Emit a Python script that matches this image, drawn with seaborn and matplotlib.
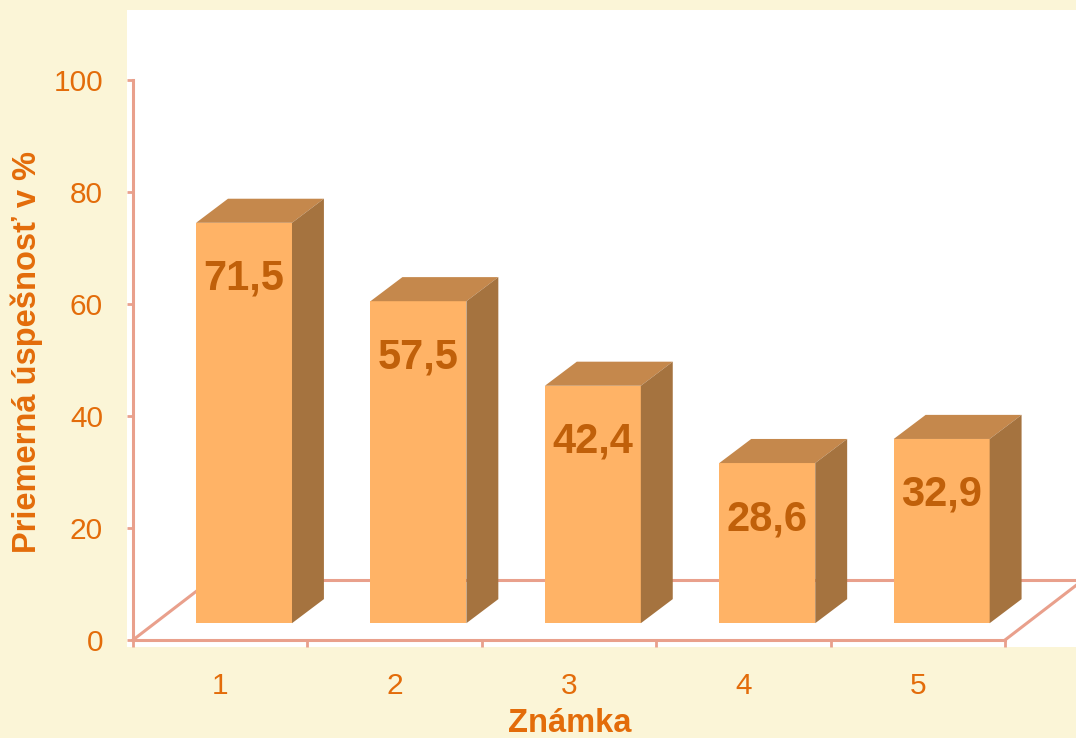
import matplotlib
matplotlib.use("Agg")
import matplotlib.pyplot as plt
from matplotlib.patches import Polygon
import seaborn as sns
import pandas as pd

# data
grades = ["1", "2", "3", "4", "5"]
success = [71.5, 57.5, 42.4, 28.6, 32.9]
value_labels = ["71,5", "57,5", "42,4", "28,6", "32,9"]
y_ticks = [0, 20, 40, 60, 80, 100]

# colours
bg = "#FBF5D7"
front_col = "#FFB366"
top_col = "#C5884C"
side_col = "#A5733F"
line_col = "#E9A08C"
text_col = "#E36C0A"
label_col = "#C0600A"

# fake 3D geometry (in data units)
floor_dx, floor_dy = 0.447, 10.7      # depth of the floor
bar_ox, bar_oy = 0.137, 3.0           # bar front face offset into the floor
bar_dx, bar_dy = 0.183, 4.3           # depth of a bar

plt.rcParams['font.family'] = ['Liberation Sans', 'DejaVu Sans']

df = pd.DataFrame({"grade": grades, "value": success})

fig = plt.figure(figsize=(10.76, 7.38), dpi=100, facecolor=bg)
ax = fig.add_axes([127 / 1076, 91 / 738, 949 / 1076, 637 / 738])
ax.set_facecolor("white")

sns.barplot(data=df, x="grade", y="value", color=front_col, width=0.55,
            saturation=1, ax=ax, zorder=3)

ax.set_xlim(-0.534, 4.907)
ax.set_ylim(-1.25, 112.5)

# floor
ax.plot([-0.5, -0.5 + floor_dx], [0, floor_dy], color=line_col, lw=2.2, zorder=1)
ax.plot([-0.5 + floor_dx, 4.5 + floor_dx + 0.5], [floor_dy, floor_dy],
        color=line_col, lw=2.2, zorder=1, clip_on=True)
ax.plot([4.5, 4.5 + floor_dx], [0, floor_dy], color=line_col, lw=2.2, zorder=1)

# turn flat bars into boxes
for p, lab in zip(ax.patches, value_labels):
    p.set_x(p.get_x() + bar_ox)
    p.set_y(bar_oy)
    p.set_edgecolor("none")
    x0 = p.get_x()
    x1 = x0 + p.get_width()
    base = p.get_y()
    top = base + p.get_height()
    ax.add_patch(Polygon([(x0, top), (x0 + bar_dx, top + bar_dy),
                          (x1 + bar_dx, top + bar_dy), (x1, top)],
                         closed=True, facecolor=top_col, edgecolor="none", zorder=3))
    ax.add_patch(Polygon([(x1, base), (x1 + bar_dx, base + bar_dy),
                          (x1 + bar_dx, top + bar_dy), (x1, top)],
                         closed=True, facecolor=side_col, edgecolor="none", zorder=3))
    ax.text((x0 + x1) / 2, p.get_height() - 7, lab, ha="center", va="center",
            fontsize=30, fontweight="bold", color=label_col, zorder=4)

# axes / spines
for s in ["top", "right"]:
    ax.spines[s].set_visible(False)
ax.spines["left"].set_position(("data", -0.5))
ax.spines["left"].set_bounds(0, 100)
ax.spines["bottom"].set_position(("data", 0))
ax.spines["bottom"].set_bounds(-0.5, 4.5)
for s in ["left", "bottom"]:
    ax.spines[s].set_color(line_col)
    ax.spines[s].set_linewidth(2.2)
    ax.spines[s].set_zorder(2)

ax.set_yticks(y_ticks)
ax.set_yticklabels([str(v) for v in y_ticks])
ax.tick_params(axis="y", colors=line_col, labelcolor=text_col, labelsize=21.5,
               length=4.5, width=2, pad=17)
ax.set_xticks(range(len(grades)))
ax.set_xticklabels(grades)
ax.set_xticks([i - 0.5 for i in range(len(grades) + 1)], minor=True)
ax.tick_params(axis="x", which="major", length=0, labelcolor=text_col,
               labelsize=21.5, pad=23)
ax.tick_params(axis="x", which="minor", length=5, width=2, colors=line_col)

ax.set_xlabel("Známka", fontsize=23.5, fontweight="bold", color=text_col)
ax.set_ylabel("Priemerná úspešnosť v %", fontsize=23.5, fontweight="bold", color=text_col)
ax.xaxis.set_label_coords(0.466, -0.096)
ax.yaxis.set_label_coords(-0.088, 0.463)

fig.savefig("out.png", dpi=100, facecolor=bg)
